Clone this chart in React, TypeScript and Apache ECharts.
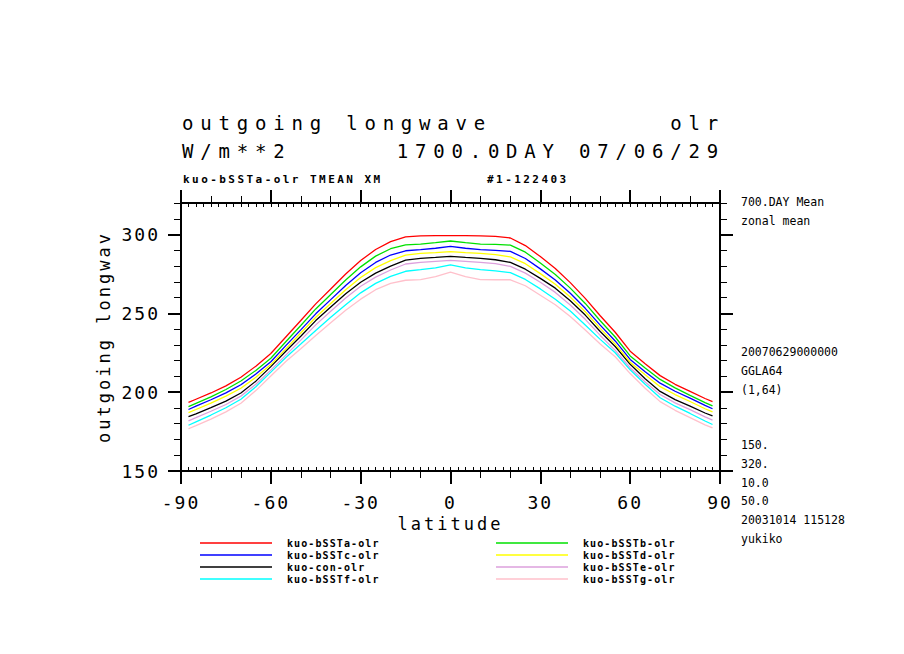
import React, { useEffect, useRef } from "react";
import * as echarts from "echarts";

// Gaussian-grid latitudes (sampled) and zonal-mean OLR values (W/m**2)
const LATS = [-87.5, -85, -80, -75, -70, -65, -60, -55, -50, -45, -40, -35, -30, -25, -20, -15, -10, -5, 0, 5, 10, 15, 20, 25, 30, 35, 40, 45, 50, 55, 60, 65, 70, 75, 80, 85, 87.5];

const RED = [193.5, 195.5, 199.5, 204, 209.5, 216.5, 224.5, 235, 245.5, 256, 265.5, 275, 283.5, 290.5, 295.5, 298.5, 299.2, 299.3, 299.3, 299.3, 299.2, 298.8, 297.8, 293, 286, 278.5, 269.5, 259.5, 248.5, 238, 226, 218, 210.5, 205, 200.5, 196, 194];
const GREEN = [190.8, 192.9, 197, 201.7, 207.1, 213.8, 221.5, 232, 242.3, 252.8, 262, 271.2, 279.5, 286.3, 291, 293.5, 293.9, 294.8, 295.9, 294.8, 293.9, 293.8, 293.3, 288.8, 282, 274.7, 266, 256.3, 245.3, 235, 223, 215.3, 208.1, 202.7, 198, 193.4, 191.3];
const BLUE = [189, 191.1, 195.2, 199.6, 204.7, 211.5, 219.3, 229.5, 239.5, 249.7, 258.7, 267.7, 275.7, 282.3, 287, 289.7, 290.4, 291.3, 292.5, 291.3, 290.4, 290, 289.3, 284.8, 278.2, 271.2, 262.7, 253.2, 242.5, 232.5, 220.8, 213, 205.7, 200.6, 196.2, 191.6, 189.5];
const YELLOW = [187, 189, 193.1, 197.5, 202.5, 209.5, 217.5, 227.5, 237.5, 247.5, 256.3, 265, 272.7, 279, 283.5, 287, 288, 288.5, 289.1, 288.5, 288, 287.3, 285.8, 281.5, 275.2, 268.5, 260.3, 251, 240.5, 230.5, 219, 211, 203.5, 198.5, 194.1, 189.5, 187.5];
const BLACK = [184.5, 186.3, 190.2, 194.3, 199.5, 207, 216.2, 226, 235.5, 245.4, 254, 262.5, 269.7, 275.5, 280, 283.7, 284.9, 285.5, 286.2, 285.5, 284.9, 284, 282.3, 278, 272.2, 266, 258, 248.9, 238.5, 229, 217.7, 208.5, 200.5, 195.3, 191.2, 186.8, 185];
const PLUM = [181.8, 183.8, 187.9, 192.2, 197.5, 205, 214, 223.5, 233, 242.7, 251.3, 259.8, 267.2, 273, 277.5, 281.3, 282.4, 283, 283.6, 283, 282.4, 281.6, 279.8, 275.5, 269.7, 263.3, 255.3, 246.2, 236, 226.5, 215.5, 206.5, 198.5, 193.2, 188.9, 184.3, 182.3];
const CYAN = [179, 181.2, 185.5, 190.1, 195.5, 203.5, 212.7, 222, 230.5, 239.1, 247.5, 255.5, 263, 269, 273.5, 276.7, 277.7, 278.8, 280.7, 278.8, 277.7, 277, 275.8, 271.5, 265.5, 259, 251.5, 242.6, 233.5, 225, 214.2, 205, 196.5, 191.1, 186.5, 181.7, 179.5];
const PINK = [176.8, 178.8, 182.9, 187.5, 193, 201, 210.3, 219.5, 227.5, 236, 244, 252, 259, 265, 269, 271, 271.4, 273.3, 276.1, 273.3, 271.4, 271.3, 271.3, 267.5, 261.5, 255.5, 248, 239.5, 230.5, 222.5, 211.8, 202.5, 194, 188.5, 183.9, 179.3, 177.3];

const SERIES_NAMES = ["kuo-bSSTa-olr", "kuo-bSSTb-olr", "kuo-bSSTc-olr", "kuo-bSSTd-olr", "kuo-con-olr", "kuo-bSSTe-olr", "kuo-bSSTf-olr", "kuo-bSSTg-olr"];
const SERIES_VALUES = [RED, GREEN, BLUE, YELLOW, BLACK, PLUM, CYAN, PINK];
const SERIES_COLORS = ["#ff0000", "#00e000", "#0000ff", "#ffff00", "#000000", "#dda0dd", "#00ffff", "#ffc0cb"];

const LEGEND_LEFT = ["kuo-bSSTa-olr", "kuo-bSSTc-olr", "kuo-con-olr", "kuo-bSSTf-olr"];
const LEGEND_RIGHT = ["kuo-bSSTb-olr", "kuo-bSSTd-olr", "kuo-bSSTe-olr", "kuo-bSSTg-olr"];

// Tick values
const X_MAJOR = [-90, -60, -30, 0, 30, 60, 90];
const X_MID = [-80, -70, -50, -40, -20, -10, 10, 20, 40, 50, 70, 80];
const Y_MAJOR = [150, 200, 250, 300];
const Y_MID = [160, 170, 180, 190, 210, 220, 230, 240, 260, 270, 280, 290, 310, 320];
const X_MINOR: number[] = [];
for (let k = -35; k <= 35; k++) X_MINOR.push(k * 2.5);

const TITLE_LEFT = "outgoing longwave";
const TITLE_RIGHT = "olr";
const UNIT_LEFT = "W/m**2";
const UNIT_RIGHT = "1700.0DAY 07/06/29";
const SUB_LEFT = "kuo-bSSTa-olr TMEAN XM";
const SUB_MID = "#1-122403";
const INFO_LINES = ["700.DAY Mean", "zonal mean", "20070629000000", "GGLA64", "(1,64)", "150.", "320.", "10.0", "50.0", "20031014 115128", "yukiko"];
const X_NAME = "latitude";
const Y_NAME = "outgoing longwav";

const MONO = "'DejaVu Sans Mono', monospace";

const CSS = `
.olrchart text[style*="19px"] { letter-spacing: 6.8px; }
.olrchart text[style*="18px"] { letter-spacing: 2px; }
.olrchart text[style*="17px"] { letter-spacing: 3px; }
.olrchart text[style*="11px"] { letter-spacing: 2.45px; }
.olrchart text[style*="10px"] { letter-spacing: 1.1px; }
`;

function xAxisDef(position: string, ticks: number[], len: number, inside: boolean, width: number, showLine: boolean, showLabels: boolean, withName: boolean) {
  return {
    type: "value",
    gridIndex: 0,
    position,
    min: -90,
    max: 90,
    name: withName ? X_NAME : "",
    nameLocation: "middle",
    nameGap: 44,
    nameTextStyle: { fontFamily: MONO, fontSize: 17, color: "#000" },
    axisLine: { show: showLine, onZero: false, lineStyle: { color: "#000", width: 2 } },
    axisTick: { show: true, customValues: ticks, length: len, inside, lineStyle: { color: "#000", width } },
    axisLabel: { show: showLabels, customValues: X_MAJOR, margin: 22, fontFamily: MONO, fontSize: 18, color: "#000" },
    splitLine: { show: false },
    minorTick: { show: false },
  };
}

function yAxisDef(position: string, ticks: number[], len: number, width: number, showLine: boolean, showLabels: boolean, withName: boolean) {
  return {
    type: "value",
    gridIndex: 0,
    position,
    min: 150,
    max: 320,
    name: withName ? Y_NAME : "",
    nameLocation: "middle",
    nameGap: 69,
    nameTextStyle: { fontFamily: MONO, fontSize: 17, color: "#000" },
    axisLine: { show: showLine, onZero: false, lineStyle: { color: "#000", width: 2 } },
    axisTick: { show: true, customValues: ticks, length: len, inside: false, lineStyle: { color: "#000", width } },
    axisLabel: { show: showLabels, customValues: Y_MAJOR, margin: 21, fontFamily: MONO, fontSize: 18, color: "#000" },
    splitLine: { show: false },
    minorTick: { show: false },
  };
}

export default function App() {
  const ref = useRef<HTMLDivElement>(null);

  useEffect(() => {
    if (!ref.current) return;
    const chart = echarts.init(ref.current, undefined, { renderer: "svg" });

    const infoY = [202, 221, 352, 371, 390, 445, 464, 483, 501, 520, 539];
    const graphics: any[] = [
      { type: "text", style: { text: TITLE_LEFT, x: 182, y: 123, fontFamily: MONO, fontSize: 19, fill: "#000", align: "left", verticalAlign: "middle", textAlign: "left", textVerticalAlign: "middle" } },
      { type: "text", style: { text: TITLE_RIGHT, x: 725, y: 123, fontFamily: MONO, fontSize: 19, fill: "#000", align: "right", verticalAlign: "middle", textAlign: "right", textVerticalAlign: "middle" } },
      { type: "text", style: { text: UNIT_LEFT, x: 182, y: 151, fontFamily: MONO, fontSize: 19, fill: "#000", align: "left", verticalAlign: "middle", textAlign: "left", textVerticalAlign: "middle" } },
      { type: "text", style: { text: UNIT_RIGHT, x: 725, y: 151, fontFamily: MONO, fontSize: 19, fill: "#000", align: "right", verticalAlign: "middle", textAlign: "right", textVerticalAlign: "middle" } },
      { type: "text", style: { text: SUB_LEFT, x: 183, y: 179.5, fontFamily: MONO, fontSize: 11, fontWeight: "bold", fill: "#000", align: "left", verticalAlign: "middle", textAlign: "left", textVerticalAlign: "middle" } },
      { type: "text", style: { text: SUB_MID, x: 487, y: 179.5, fontFamily: MONO, fontSize: 11, fontWeight: "bold", fill: "#000", align: "left", verticalAlign: "middle", textAlign: "left", textVerticalAlign: "middle" } },
    ];
    INFO_LINES.forEach((t, i) => {
      graphics.push({ type: "text", style: { text: t, x: 741, y: infoY[i], fontFamily: MONO, fontSize: 11.5, fill: "#000", align: "left", verticalAlign: "middle", textAlign: "left", textVerticalAlign: "middle" } });
    });

    const legendCommon = {
      orient: "vertical",
      top: 537,
      itemWidth: 72,
      itemHeight: 1.3,
      itemGap: 0,
      padding: 0,
      icon: "rect",
      selectedMode: false,
      itemStyle: { borderWidth: 0 },
      textStyle: { fontFamily: MONO, fontSize: 10, fontWeight: "bold", color: "#000", lineHeight: 12, padding: [0, 0, 0, 10] },
    };

    chart.setOption({
      animation: false,
      backgroundColor: "#ffffff",
      grid: { left: 181, right: 184, top: 203, bottom: 183, containLabel: false, outerBoundsMode: "none" },
      xAxis: [
        xAxisDef("bottom", X_MAJOR, 13, false, 2, true, true, true),
        xAxisDef("bottom", X_MID, 7, false, 1, false, false, false),
        xAxisDef("bottom", X_MINOR, 4, true, 1, false, false, false),
        xAxisDef("top", X_MAJOR, 13, false, 2, true, false, false),
        xAxisDef("top", X_MID, 7, false, 1, false, false, false),
        xAxisDef("top", X_MINOR, 4, true, 1, false, false, false),
      ],
      yAxis: [
        yAxisDef("left", Y_MAJOR, 13, 2, true, true, true),
        yAxisDef("left", Y_MID, 7, 1, false, false, false),
        yAxisDef("right", Y_MAJOR, 13, 2, true, false, false),
        yAxisDef("right", Y_MID, 7, 1, false, false, false),
      ],
      legend: [
        { ...legendCommon, left: 200, data: LEGEND_LEFT },
        { ...legendCommon, left: 496, data: LEGEND_RIGHT },
      ],
      graphic: graphics,
      series: SERIES_NAMES.map((name, i) => ({
        type: "line",
        name,
        xAxisIndex: 0,
        yAxisIndex: 0,
        data: LATS.map((lat, j) => [lat, SERIES_VALUES[i][j]]),
        symbol: "none",
        showSymbol: false,
        silent: true,
        lineStyle: { color: SERIES_COLORS[i], width: 1.3 },
        itemStyle: { color: SERIES_COLORS[i] },
        z: 10 - i,
      })),
    });

    return () => chart.dispose();
  }, []);

  return (
    <>
      <style>{CSS}</style>
      <div
        ref={ref}
        className="olrchart"
        style={{ position: "absolute", left: 0, top: 0, width: 904, height: 654, background: "#fff" }}
      />
    </>
  );
}
